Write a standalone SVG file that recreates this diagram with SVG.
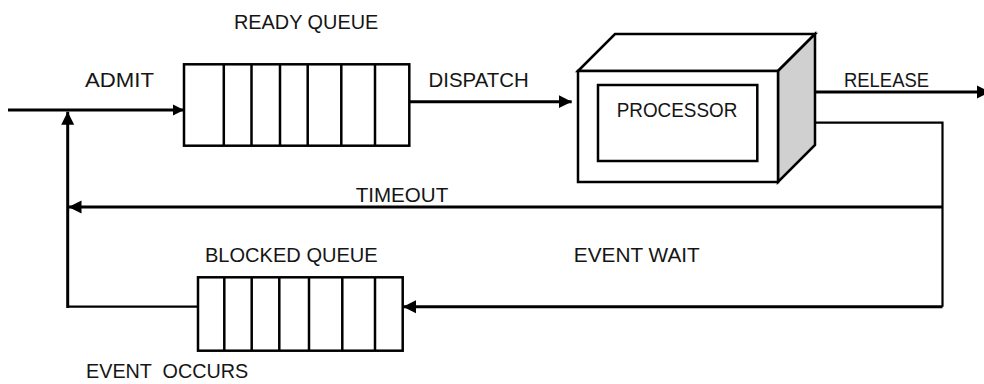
<svg xmlns="http://www.w3.org/2000/svg" width="984" height="384" viewBox="0 0 984 384">
  <style>
    .bg{fill:#ffffff}
    .box{fill:#ffffff;stroke:#000;stroke-width:2.5}
    .div{stroke:#000;stroke-width:2.5;fill:none}
    .side{fill:#d0d0d0;stroke:#000;stroke-width:2.5;stroke-linejoin:miter}
    .ln{fill:none;stroke:#000;stroke-width:3}
    .thin{fill:none;stroke:#000;stroke-width:2.2}
    .lbl{font-family:"Liberation Sans",Arial,sans-serif;font-size:21px;fill:#151515}
  </style>
  <defs>
    <marker id="ah" markerUnits="userSpaceOnUse" markerWidth="16" markerHeight="16" refX="13" refY="7" orient="auto">
      <path d="M0,0.5 L13,7 L0,13.5 z" fill="#000"/>
    </marker>
    <marker id="ahs" markerUnits="userSpaceOnUse" markerWidth="14" markerHeight="14" refX="11" refY="6" orient="auto">
      <path d="M0,0.5 L11,6 L0,11.5 z" fill="#000"/>
    </marker>
  </defs>
  <rect class="bg" x="0" y="0" width="984" height="384"/>

  <g id="connectors">
    <!-- admit -->
    <line class="ln" x1="8" y1="110" x2="184" y2="110" marker-end="url(#ahs)"/>
    <!-- dispatch -->
    <line class="ln" x1="409" y1="101.7" x2="571.7" y2="101.7" marker-end="url(#ah)"/>
    <!-- release -->
    <line class="ln" x1="815" y1="92" x2="990" y2="92" marker-end="url(#ah)"/>
    <!-- processor to right vertical -->
    <polyline class="thin" points="815,122.7 942.5,122.7 942.5,306.7"/>
    <!-- timeout -->
    <line class="ln" x1="942.5" y1="207" x2="68.5" y2="207" marker-end="url(#ah)"/>
    <!-- event wait -->
    <line class="ln" x1="942.5" y1="306.7" x2="403" y2="306.7" marker-end="url(#ah)"/>
    <!-- event occurs: from blocked queue back up to admit line -->
    <polyline class="thin" points="203.5,306.7 67.7,306.7"/>
    <line class="ln" x1="67.7" y1="308" x2="67.7" y2="111.7" marker-end="url(#ah)"/>

    <text class="lbl" x="85" y="86.7" textLength="69" lengthAdjust="spacingAndGlyphs">ADMIT</text>
    <text class="lbl" x="428.6" y="87.3" textLength="100" lengthAdjust="spacingAndGlyphs">DISPATCH</text>
    <text class="lbl" x="844" y="87" textLength="85" lengthAdjust="spacingAndGlyphs">RELEASE</text>
    <text class="lbl" x="355.7" y="202.3" textLength="92.6" lengthAdjust="spacingAndGlyphs">TIMEOUT</text>
    <text class="lbl" x="573.8" y="261.7" textLength="126" lengthAdjust="spacingAndGlyphs">EVENT WAIT</text>
    <text class="lbl" x="86" y="378.3" textLength="162.3" lengthAdjust="spacingAndGlyphs" xml:space="preserve">EVENT  OCCURS</text>
  </g>

  <g id="ready-queue">
    <rect class="box" x="184" y="64.3" width="225.3" height="81.4"/>
    <path class="div" d="M223.8,64.3 V145.7 M251.5,64.3 V145.7 M280,64.3 V145.7 M307.7,64.3 V145.7 M341.3,64.3 V145.7 M375,64.3 V145.7"/>
    <text class="lbl" x="234" y="29.3" textLength="144.3" lengthAdjust="spacingAndGlyphs">READY QUEUE</text>
  </g>

  <g id="processor">
    <polygon class="box" points="578,71 615,34 815,34 778,71"/>
    <polygon class="side" points="778,71 815,34 815,145 778,182"/>
    <rect class="box" x="578" y="71" width="200" height="111"/>
    <rect class="box" x="598" y="85" width="159.3" height="76"/>
    <text class="lbl" x="616.7" y="117.3" textLength="120.6" lengthAdjust="spacingAndGlyphs">PROCESSOR</text>
  </g>

  <g id="blocked-queue">
    <rect class="box" x="198" y="277.3" width="204.7" height="73.4"/>
    <path class="div" d="M224.3,277.3 V350.7 M251.7,277.3 V350.7 M279.3,277.3 V350.7 M309,277.3 V350.7 M342.3,277.3 V350.7 M375,277.3 V350.7"/>
    <text class="lbl" x="205" y="262.3" textLength="172.7" lengthAdjust="spacingAndGlyphs">BLOCKED QUEUE</text>
  </g>
</svg>
